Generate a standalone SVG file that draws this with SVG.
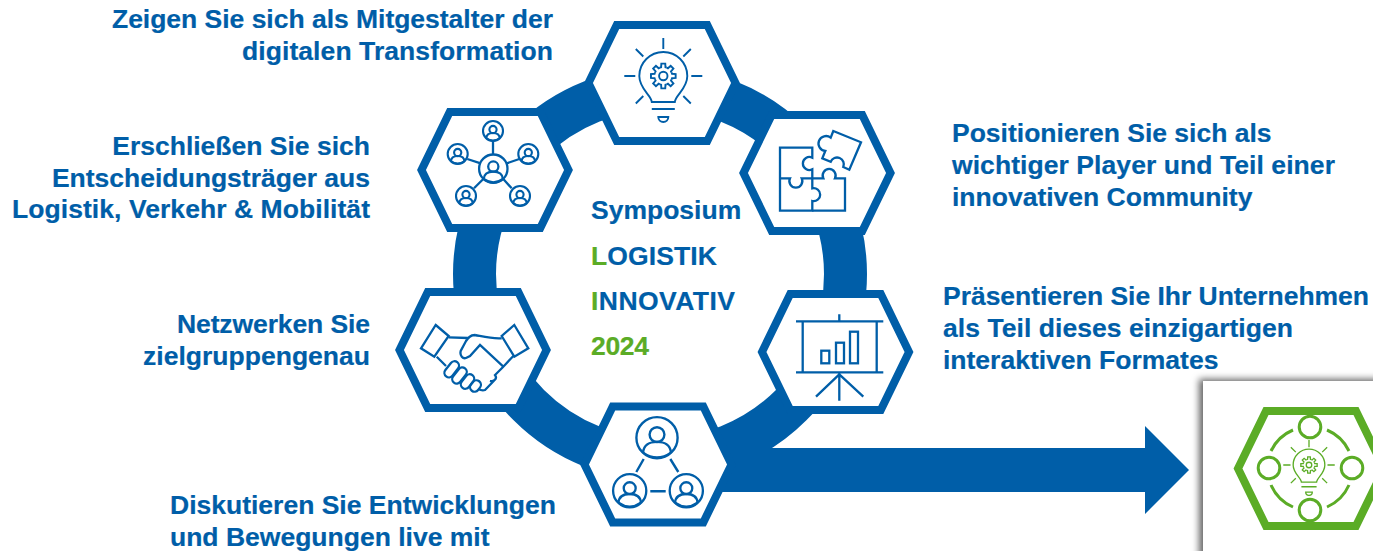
<svg xmlns="http://www.w3.org/2000/svg" width="1373" height="551" viewBox="0 0 1373 551">
<style>
.t{font-family:"Liberation Sans",Arial,sans-serif;font-weight:700;font-size:26.5px;fill:#005EA8;stroke:#005EA8;stroke-width:.2}
.e{text-anchor:end}
.g{fill:#5BAC26;stroke:#5BAC26}
.hx{fill:#fff;stroke:#005EA8;stroke-width:8;stroke-miterlimit:10}
.ic{fill:none;stroke:#005EA8;stroke-width:2.3;stroke-linecap:butt;stroke-linejoin:miter}
.gr{fill:none;stroke:#5BAC26}
</style>
<defs>
<polygon id="hex" points="-45.3,-58 45.3,-58 73.5,0 45.3,58 -45.3,58 -73.5,0"/>
<path id="tooth" d="M-3.44,-8.31 L-2.18,-8.73 L-1.96,-12.35 L1.96,-12.35 L2.18,-8.73 L3.44,-8.31"/>
<g id="bulb">
<path d="M0,-38V-27M-39,0H-28M39,0H28M-27.5,-27L-20,-19.5M27.5,-27L20,-19.5M-27.5,27.500L-20,20M27.5,27.5L20,20"/>
<path d="M-11.5,26 C-12,19 -24,13 -24,0 A24,24 0 0 1 24,0 C24,13 12,19 11.5,26 Z"/>
<path d="M-11.5,33H11.5M-5,41H5A5,5 0 0 1 -5,41Z"/>
<g>
<circle r="4.2"/>
<use href="#tooth"/><use href="#tooth" transform="rotate(45)"/><use href="#tooth" transform="rotate(90)"/><use href="#tooth" transform="rotate(135)"/><use href="#tooth" transform="rotate(180)"/><use href="#tooth" transform="rotate(225)"/><use href="#tooth" transform="rotate(270)"/><use href="#tooth" transform="rotate(315)"/>
</g>
</g>
<g id="person">
<circle r="20"/>
<circle cy="-3" r="7.2"/>
<path d="M-13.5,14.5 C-13,7 -7,4 0,4 C7,4 13,7 13.5,14.5"/>
<path d="M-13.5,14.5 Q0,24 13.5,14.5"/>
</g>
<filter id="sh" x="-10%" y="-10%" width="120%" height="120%"><feDropShadow dx="-4" dy="-2" stdDeviation="3.5" flood-color="#000" flood-opacity="0.6"/></filter>
</defs>
<rect width="1373" height="551" fill="#fff"/>
<g id="connectors">
<circle cx="660" cy="274" r="185.5" fill="none" stroke="#005EA8" stroke-width="43"/>
<polygon fill="#005EA8" points="700,448 1145,448 1145,426 1189,470 1145,514 1145,492 700,492"/>
</g>
<g id="node-top">
<use href="#hex" class="hx" x="662" y="83"/>
<g class="ic" transform="translate(663.3,76)"><g stroke-width="1.9"><use href="#bulb"/></g></g>
</g>
<g id="node-right-upper">
<use href="#hex" class="hx" x="817" y="173"/>
<g class="ic">
<path d="M780,147.7H812.3V157.7A6.5,6.5 0 1 0 812.3,169.3V188.3A6.5,6.5 0 1 1 812.3,201V210.7H780Z"/>
<path d="M780,178.3H790A6.5,6.5 0 1 0 801.7,178.3H812.3H823.3A6.5,6.5 0 1 1 835,178.3H845V210.7H812.3"/>
<path d="M833.3,131L861,142.3L849.3,169.7L843.3,167A6.8,6.8 0 1 0 830.7,161.7L822.3,158.3L825.3,151A7.5,7.5 0 1 1 830.7,137.7Z"/>
</g>
</g>
<g id="node-right-lower">
<use href="#hex" class="hx" x="835.5" y="352"/>
<g class="ic">
<path d="M796,321.3H883.3M796,372.3H883.3M802.7,321.3V372.3M876.7,321.3V372.3M839.3,314.3V321.3M839.3,373.3V400.7M839.3,374.3L816,396.7M839.3,374.3L863.3,396.7"/>
<rect x="821.3" y="350.7" width="8" height="12.6"/>
<rect x="836" y="342.7" width="8" height="20.6"/>
<rect x="850" y="331.7" width="8" height="31.6"/>
</g>
</g>
<g id="node-bottom">
<use href="#hex" class="hx" x="658" y="464.5"/>
<g class="ic">
<g stroke-width="2.3"><use href="#person" transform="translate(657,437.7) scale(1.03)"/></g>
<g stroke-width="2.8"><use href="#person" transform="translate(629.7,490.7) scale(.83)"/>
<use href="#person" transform="translate(686.3,490.7) scale(.83)"/></g>
<path d="M643.7,459L636.3,472M670.3,459L678.3,472M650.3,491.3H665.7" stroke-width="2.4"/>
</g>
</g>
<g id="node-left-lower">
<use href="#hex" class="hx" x="473" y="350"/>
<g class="ic">
<path d="M435.7,325L448.7,336L434.3,356.7L421,348.3Z"/>
<path d="M514.3,325L528.3,348.3L514.3,356.7L501.7,336Z"/>
<path d="M448.7,337.3L468.3,338M475,335C485,337 492,339 501.7,338.3M475,335C470,335 468,338 466,341L460.7,351C459.5,356 463,359 466,358L470,356L480,345L503.3,366.7L513.3,356M503.3,366.7L495,375C498,379 493,382 490,381L493,381.7L485,390C482,391 480,390 478,389M436.7,356.7L446,366"/>
<rect x="-9" y="-4.5" width="18" height="9" rx="4.5" transform="translate(451.7,369.3) rotate(-52)"/>
<rect x="-9" y="-4.5" width="18" height="9" rx="4.5" transform="translate(459.5,375.5) rotate(-52)"/>
<rect x="-8" y="-4.5" width="16" height="9" rx="4.5" transform="translate(467.5,381.5) rotate(-52)"/>
<rect x="-6" y="-4.5" width="12" height="9" rx="4.5" transform="translate(475.5,386) rotate(-52)"/>
</g>
</g>
<g id="node-left-upper">
<use href="#hex" class="hx" x="495" y="170"/>
<g class="ic">
<g stroke-width="3.2"><use href="#person" transform="translate(493.3,168.7) scale(.71)"/></g>
<g stroke-width="4.2">
<use href="#person" transform="translate(493,131) scale(.5)"/>
<use href="#person" transform="translate(457.7,154) scale(.5)"/>
<use href="#person" transform="translate(528.3,154) scale(.5)"/>
<use href="#person" transform="translate(466,196) scale(.5)"/>
<use href="#person" transform="translate(520,196) scale(.5)"/>
</g>
<path d="M493,141V154.3M467.3,159L480.7,163.3M519.3,159L506.7,163.3M474,188.3L483.3,179M511.7,188.3L503.3,179"/>
</g>
</g>
<g id="node-card">
<rect x="1203" y="381" width="200" height="200" fill="#fff" filter="url(#sh)"/>
<polygon points="1266,411 1356,411 1384,468.500 1356,526 1266,526 1238,468.500" fill="#fff" stroke="#5BAC26" stroke-width="8" stroke-miterlimit="10"/>
<g class="gr" stroke-width="3">
<circle cx="1310" cy="427" r="10.800"/>
<circle cx="1310" cy="510" r="10.800"/>
<circle cx="1269" cy="468" r="10.800"/>
<circle cx="1352" cy="468" r="10.800"/>
<path d="M1271,451A43,43 0 0 1 1293,430M1327,430A43,43 0 0 1 1349,451M1349,485A43,43 0 0 1 1327,507M1293,507A43,43 0 0 1 1271,485"/>
</g>
<g class="gr" stroke-width="2" transform="translate(1309,465) scale(.66)"><use href="#bulb"/></g>
</g>
<g id="center-label">
<text class="t" x="591" y="219">Symposium</text>
<text class="t" x="591" y="265" textLength="126"><tspan class="g">L</tspan>OGISTIK</text>
<text class="t" x="591" y="310" textLength="144"><tspan class="g">I</tspan>NNOVATIV</text>
<text class="t g" x="591" y="355" textLength="58">2024</text>
</g>
<g id="labels">
<text class="t e" x="553" y="28" textLength="441">Zeigen Sie sich als Mitgestalter der</text>
<text class="t e" x="553" y="60" textLength="311">digitalen Transformation</text>
<text class="t e" x="370" y="155">Erschließen Sie sich</text>
<text class="t e" x="370" y="187">Entscheidungsträger aus</text>
<text class="t e" x="370" y="218" textLength="358">Logistik, Verkehr &amp; Mobilität</text>
<text class="t e" x="370" y="333" textLength="193">Netzwerken Sie</text>
<text class="t e" x="370" y="365" textLength="227">zielgruppengenau</text>
<text class="t" x="170" y="514">Diskutieren Sie Entwicklungen</text>
<text class="t" x="170" y="546">und Bewegungen live mit</text>
<text class="t" x="952" y="142">Positionieren Sie sich als</text>
<text class="t" x="952" y="174" textLength="383">wichtiger Player und Teil einer</text>
<text class="t" x="952" y="206">innovativen Community</text>
<text class="t" x="943" y="305" textLength="426">Präsentieren Sie Ihr Unternehmen</text>
<text class="t" x="943" y="337" textLength="350">als Teil dieses einzigartigen</text>
<text class="t" x="943" y="369">interaktiven Formates</text>
</g>
</svg>
